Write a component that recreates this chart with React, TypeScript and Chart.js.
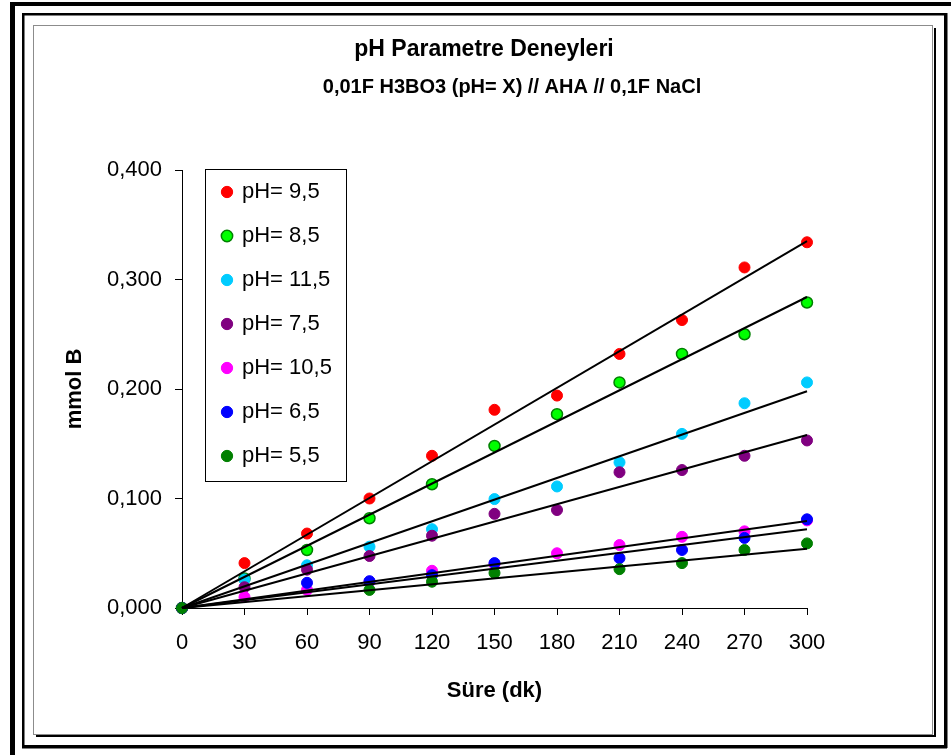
import React, { useEffect, useRef } from 'react';
import { Chart, registerables } from 'chart.js';

Chart.register(...registerables);

// ---- Texts ----
const titleLine1 = 'pH Parametre Deneyleri';
const titleLine2 = '0,01F H3BO3 (pH= X) // AHA // 0,1F NaCl';
const xAxisTitle = 'Süre (dk)';
const yAxisTitle = 'mmol B';

// ---- Data ----
const times = [0, 30, 60, 90, 120, 150, 180, 210, 240, 270, 300];
const seriesNames = ['pH= 9,5', 'pH= 8,5', 'pH= 11,5', 'pH= 7,5', 'pH= 10,5', 'pH= 6,5', 'pH= 5,5'];

const ph95 = [0, 0.041, 0.068, 0.100, 0.139, 0.181, 0.194, 0.232, 0.263, 0.311, 0.334];
const ph85 = [0, 0.027, 0.053, 0.082, 0.113, 0.148, 0.177, 0.206, 0.232, 0.250, 0.279];
const ph115 = [0, 0.026, 0.039, 0.056, 0.072, 0.0995, 0.111, 0.133, 0.159, 0.187, 0.206];
const ph75 = [0, 0.019, 0.035, 0.0475, 0.066, 0.086, 0.0895, 0.124, 0.126, 0.139, 0.153];
const ph105 = [0, 0.010, 0.0165, 0.024, 0.034, 0.040, 0.050, 0.0575, 0.065, 0.070, 0.080];
const ph65 = [0, null, 0.023, 0.0245, 0.030, 0.041, null, 0.0455, 0.053, 0.064, 0.081];
const ph55 = [0, null, null, 0.0165, 0.024, 0.032, null, 0.0355, 0.041, 0.053, 0.059];

// linear trendlines through the origin: value at t = 300
const trendEndTime = 300;
const trendEnd = [0.335, 0.284, 0.198, 0.158, 0.0795, 0.072, 0.054];

const yTicksMin = 0;
const yTicksMax = 0.4;
const yStep = 0.1;
const xTicksMin = 0;
const xTicksMax = 300;
const xStep = 30;

// ---- Styles ----
const fillColors = ['#FF0000', '#00FF00', '#00CCFF', '#800080', '#FF00FF', '#0000FF', '#008000'];
const borderColors = ['#FF0000', '#008000', '#00CCFF', '#800080', '#FF00FF', '#0000FF', '#008000'];
const FONT = "'Liberation Sans', Arial, Helvetica, sans-serif";

const framePlugin = {
  id: 'frames',
  afterLayout(chart: any) {
    const lg = chart.legend;
    const ca = chart.chartArea;
    if (lg && ca) {
      lg.left = ca.left + 19;
      lg.top = ca.top - 11;
      lg.width = 170;
      lg.height = 400;
      lg.right = lg.left + lg.width;
      lg.bottom = lg.top + lg.height;
    }
    // shift the second title line to the right, as in the original
    for (const box of chart.boxes || []) {
      if (box && box.options && box.options.text === titleLine2 && box !== chart.titleBlock) {
        box.left = box.left + 35;
      }
    }
  },
  beforeDraw(chart: any) {
    const ctx = chart.ctx;
    const ca = chart.chartArea;
    ctx.save();
    ctx.fillStyle = '#ffffff';
    ctx.fillRect(0, 0, chart.width, chart.height);
    ctx.fillStyle = '#000000';
    // outer thick frame (open to the right/bottom)
    ctx.fillRect(10, 2, 5, chart.height - 2);
    ctx.fillRect(10, 2, chart.width - 10, 4);
    // second frame
    ctx.fillRect(22, 13, 2.5, 735);
    ctx.fillRect(22, 13, 925, 2.5);
    ctx.fillRect(944, 13, 3.5, 735);
    ctx.fillRect(22, 745, 925, 3.5);
    // chart area border (grey) with black shadow
    ctx.strokeStyle = '#8c8c8c';
    ctx.lineWidth = 1;
    ctx.strokeRect(33.5, 25.5, 899, 709);
    ctx.fillStyle = '#000000';
    ctx.fillRect(934, 28, 2, 709);
    ctx.fillRect(36, 735, 900, 2);
    // legend frame
    const lx = ca.left + 23.5;
    const ly = ca.top - 0.5;
    ctx.fillStyle = '#ffffff';
    ctx.fillRect(lx, ly, 141, 312);
    ctx.strokeStyle = '#000000';
    ctx.lineWidth = 1;
    ctx.strokeRect(lx, ly, 141, 312);
    ctx.restore();
  },
};

export default function App() {
  const ref = useRef<HTMLCanvasElement | null>(null);

  useEffect(() => {
    const canvas = ref.current;
    if (!canvas) return;
    const pointSets = [ph95, ph85, ph115, ph75, ph105, ph65, ph55];
    const datasets: any[] = pointSets.map((vals, i) => ({
      label: seriesNames[i],
      data: times
        .map((t, j) => ({ x: t, y: vals[j] }))
        .filter((p) => p.y !== null && p.y !== undefined),
      showLine: false,
      pointStyle: 'circle',
      pointRadius: 5.5,
      pointHoverRadius: 5.5,
      backgroundColor: fillColors[i],
      borderColor: borderColors[i],
      pointBackgroundColor: fillColors[i],
      pointBorderColor: borderColors[i],
      pointBorderWidth: i === 1 ? 1.5 : 1,
      order: 7 - i,
      clip: false,
    }));
    trendEnd.forEach((end, i) => {
      datasets.push({
        label: 'trend ' + seriesNames[i],
        data: [
          { x: 0, y: 0 },
          { x: trendEndTime, y: end },
        ],
        showLine: true,
        borderColor: '#000000',
        backgroundColor: '#000000',
        borderWidth: 2,
        pointRadius: 0,
        pointHoverRadius: 0,
        order: 0,
        clip: false,
      });
    });

    const chart = new Chart(canvas, {
      type: 'scatter',
      data: { datasets },
      plugins: [framePlugin],
      options: {
        responsive: false,
        animation: false,
        events: [],
        devicePixelRatio: 1,
        layout: { padding: { left: 17, right: 0, top: 0, bottom: 0 } },
        plugins: {
          tooltip: { enabled: false },
          title: {
            display: true,
            text: titleLine1,
            color: '#000',
            font: { family: FONT, size: 23, weight: 'bold', lineHeight: 1.2 },
            padding: { top: 36, bottom: 0 },
            fullSize: true,
          },
          subtitle: {
            display: true,
            text: titleLine2,
            color: '#000',
            font: { family: FONT, size: 20, weight: 'bold', lineHeight: 1.2 },
            padding: { top: 12, bottom: 70.4 },
            fullSize: false,
          },
          legend: {
            display: true,
            position: 'chartArea',
            align: 'start',
            labels: {
              color: '#000',
              font: { family: FONT, size: 22 },
              usePointStyle: true,
              boxWidth: 8,
              boxHeight: 8,
              padding: 22,
              filter: (item: any) => item.datasetIndex < 7,
              sort: (a: any, b: any) => a.datasetIndex - b.datasetIndex,
            },
          },
        } as any,
        scales: {
          x: {
            type: 'linear',
            position: 'bottom',
            min: xTicksMin,
            max: xTicksMax,
            afterFit: (s: any) => {
              s.height = 147;
            },
            ticks: {
              stepSize: xStep,
              autoSkip: false,
              maxRotation: 0,
              color: '#000',
              padding: 14.8,
              font: { family: FONT, size: 22 },
              callback: (v: any) => String(v),
            },
            grid: {
              drawOnChartArea: false,
              drawTicks: true,
              tickLength: 7,
              color: '#000',
              lineWidth: 1,
            },
            border: { display: true, color: '#000', width: 1 },
            title: {
              display: true,
              text: xAxisTitle,
              color: '#000',
              font: { family: FONT, size: 22, weight: 'bold', lineHeight: 1.2 },
              padding: { top: 0, bottom: 50.8 },
            },
          },
          y: {
            type: 'linear',
            position: 'left',
            min: yTicksMin,
            max: yTicksMax,
            afterFit: (s: any) => {
              s.width = 165;
            },
            ticks: {
              stepSize: yStep,
              color: '#000',
              padding: 13,
              font: { family: FONT, size: 22 },
              callback: (v: any) => Number(v).toFixed(3).replace('.', ','),
            },
            grid: {
              drawOnChartArea: false,
              drawTicks: true,
              tickLength: 7,
              color: '#000',
              lineWidth: 1,
            },
            border: { display: true, color: '#000', width: 1 },
            title: {
              display: true,
              text: yAxisTitle,
              color: '#000',
              font: { family: FONT, size: 22, weight: 'bold', lineHeight: 1.2 },
              padding: { top: 44.8, bottom: 0 },
            },
          },
          yRightSpace: {
            type: 'linear',
            position: 'right',
            display: true,
            min: 0,
            max: 1,
            afterFit: (s: any) => {
              s.width = 144;
            },
            ticks: { display: false },
            grid: { display: false, drawTicks: false },
            border: { display: false },
            title: { display: false },
          },
        } as any,
      },
    });
    return () => chart.destroy();
  }, []);

  return (
    <div style={{ position: 'fixed', left: 0, top: 0, width: 951, height: 755, background: '#fff' }}>
      <canvas ref={ref} width={951} height={755} style={{ display: 'block', width: 951, height: 755 }} />
    </div>
  );
}
